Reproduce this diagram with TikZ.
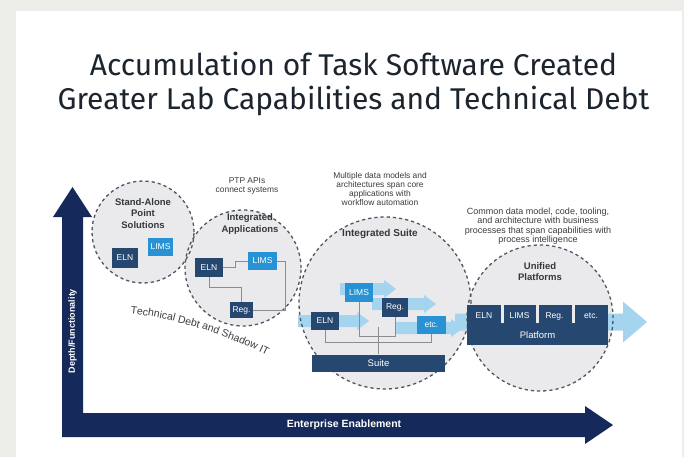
\documentclass[tikz,border=0pt]{standalone}
\usepackage{fontspec}
\setmainfont{Liberation Sans}
\newfontfamily\titlefont{Fira Sans}
\usetikzlibrary{decorations.text}
\definecolor{navy}{RGB}{21,42,90}
\definecolor{darkbox}{RGB}{38,72,112}
\definecolor{brightbox}{RGB}{40,146,212}
\definecolor{lightarrow}{RGB}{165,212,238}
\definecolor{circfill}{RGB}{234,234,236}
\definecolor{circline}{RGB}{78,86,98}
\definecolor{connline}{RGB}{140,140,140}
\definecolor{bggray}{RGB}{237,237,233}
\definecolor{smalltxt}{RGB}{60,60,60}
\definecolor{lbltxt}{RGB}{50,55,62}
\definecolor{titletxt}{RGB}{28,36,46}
\begin{document}
\begin{tikzpicture}[x=1pt,y=-1pt,
  box/.style={fill=darkbox,text=white,inner sep=0pt,font=\fontsize{8.5}{9}\selectfont},
  bbox/.style={box,fill=brightbox},
  lbl/.style={text=lbltxt,align=center,inner sep=0pt,font=\bfseries\fontsize{9.5}{11.5}\selectfont},
  small/.style={text=smalltxt,align=center,inner sep=0pt,font=\fontsize{8.4}{9}\selectfont},
  larrow/.style={fill=lightarrow},
  circfillstyle/.style={fill=circfill},
  dashcirc/.style={draw=circline,line width=1.3pt,dash pattern=on 3.2pt off 3pt},
  conn/.style={draw=connline,line width=0.9pt},
  plat/.style={text=white,inner sep=0pt,font=\fontsize{8.5}{9}\selectfont}]
\useasboundingbox (0,0) rectangle (684,457);
\fill[bggray] (0,0) rectangle (684,457);
\fill[white] (16,11) rectangle (682,457);

% title
\node[text=titletxt,align=center,inner sep=0pt,font=\titlefont\fontsize{30}{34}\selectfont] (title) at (353.5,84) {Accumulation of Task Software Created\\Greater Lab Capabilities and Technical Debt};

% axes
\fill[navy] (62,437) -- (62,217) -- (53,217) -- (72.5,187) -- (92,217) -- (83,217) -- (83,413) -- (585,413) -- (585,406) -- (613,425) -- (585,444) -- (585,437) -- cycle;
\node[text=white,rotate=90,inner sep=0pt,font=\bfseries\fontsize{9}{9}\selectfont] (yl) at (72.5,331) {Depth/Functionality};
\node[text=white,inner sep=0pt,font=\bfseries\fontsize{10.5}{11}\selectfont] (xl) at (344,425) {Enterprise Enablement};

% circle fills
\fill[circfillstyle] (143,232) circle[radius=51pt];
\fill[circfillstyle] (243,268) circle[radius=58pt];
\fill[circfillstyle] (385,303) circle[radius=86pt];
\fill[circfillstyle] (540,318) circle[radius=73pt];

% light arrows
\fill[larrow] (340,283) -- (384,283) -- (384,280) -- (396,289) -- (384,298) -- (384,295) -- (340,295) -- cycle;
\fill[larrow] (372,298) -- (424,298) -- (424,295) -- (436,304) -- (424,313) -- (424,310) -- (372,310) -- cycle;
\fill[larrow] (298,315) -- (357,315) -- (357,312) -- (369,321) -- (357,330) -- (357,327) -- (298,327) -- cycle;
\fill[larrow] (395,322) -- (451,322) -- (451,319) -- (463,328) -- (451,337) -- (451,334) -- (395,334) -- cycle;
\fill[larrow] (455,313.5) -- (623,313.5) -- (623,301.5) -- (647,322) -- (623,342.5) -- (623,330.5) -- (455,330.5) -- cycle;

% circle outlines
\draw[dashcirc] (143,232) circle[radius=51pt];
\draw[dashcirc] (243,268) circle[radius=58pt];
\draw[dashcirc] (385,303) circle[radius=86pt];
\draw[dashcirc] (540,318) circle[radius=73pt];

% circle 1
\node[lbl] (t1) at (143,213.5) {Stand-Alone\\Point\\Solutions};
\node[box,minimum width=26pt,minimum height=20pt] (e1) at (125,258) {ELN};
\node[bbox,minimum width=25pt,minimum height=18pt] (l1) at (160.5,247) {LIMS};

% circle 2
\node[small] (ptp) at (247,186) {PTP APIs\\connect systems};
\node[lbl] (t2) at (250,224) {Integrated\\Applications};
\node[box,minimum width=28pt,minimum height=19pt] (e2) at (209,267.5) {ELN};
\node[bbox,minimum width=29pt,minimum height=18pt] (l2) at (262.5,261) {LIMS};
\node[box,minimum width=23pt,minimum height=16pt] (r2) at (241.5,310) {Reg.};
\draw[conn] (e2.east) -- ++(12,0) |- (l2.west);
\draw[conn] (l2.east) -- ++(8,0) |- (r2.east);
\draw[conn] (e2.south) -- ++(0,10) -| (r2.north);

% technical debt text
\path[decorate,decoration={text along path,text align=center,
  text={|\fontsize{10.5}{11}\selectfont\color{smalltxt}|Technical Debt and Shadow IT}}]
  (118,312) .. controls (178,318) and (228,335) .. (278,361);

% circle 3
\node[small] (m3) at (380,188.5) {Multiple data models and\\architectures span core\\applications with\\workflow automation};
\node[lbl,font=\bfseries\fontsize{10}{12}\selectfont] (t3) at (380,234) {Integrated Suite};
\node[box,minimum width=133pt,minimum height=17pt,font=\fontsize{9.5}{10}\selectfont] (s3) at (378.5,363) {Suite};
\draw[conn] (s3.north) -- ++(0,-27);
\node[bbox,minimum width=28pt,minimum height=19pt] (l3) at (359,292.5) {LIMS};
\node[box,minimum width=26pt,minimum height=19pt] (r3) at (395,307.5) {Reg.};
\node[box,minimum width=28pt,minimum height=18pt] (e3) at (325,321) {ELN};
\node[bbox,minimum width=29pt,minimum height=18pt] (x3) at (431.5,325) {etc.};
\draw[conn] (l3.south) -- ++(0,34) -| (r3.south);
\draw[conn] (e3.south) -- ++(0,12) -| (x3.south);

% circle 4
\node[small,font=\fontsize{9}{9.4}\selectfont] (m4) at (538,226) {Common data model, code, tooling,\\and architecture with business\\processes that span capabilities with\\process intelligence};
\node[lbl] (t4) at (540,271.5) {Unified\\Platforms};
\node[box,minimum width=141pt,minimum height=40pt] (p4) at (537.5,325) {};
\fill[circfill] (500.5,305) rectangle (504,323);
\fill[circfill] (535.5,305) rectangle (539,323);
\fill[circfill] (571.5,305) rectangle (575,323);
\node[plat] (pe) at (484,316) {ELN};
\node[plat] (pl) at (519.5,316) {LIMS};
\node[plat] (pr) at (554.5,316) {Reg.};
\node[plat] (px) at (591,316) {etc.};
\node[plat,font=\fontsize{9.5}{10}\selectfont] (pp) at (537.5,335) {Platform};
\end{tikzpicture}
\end{document}
